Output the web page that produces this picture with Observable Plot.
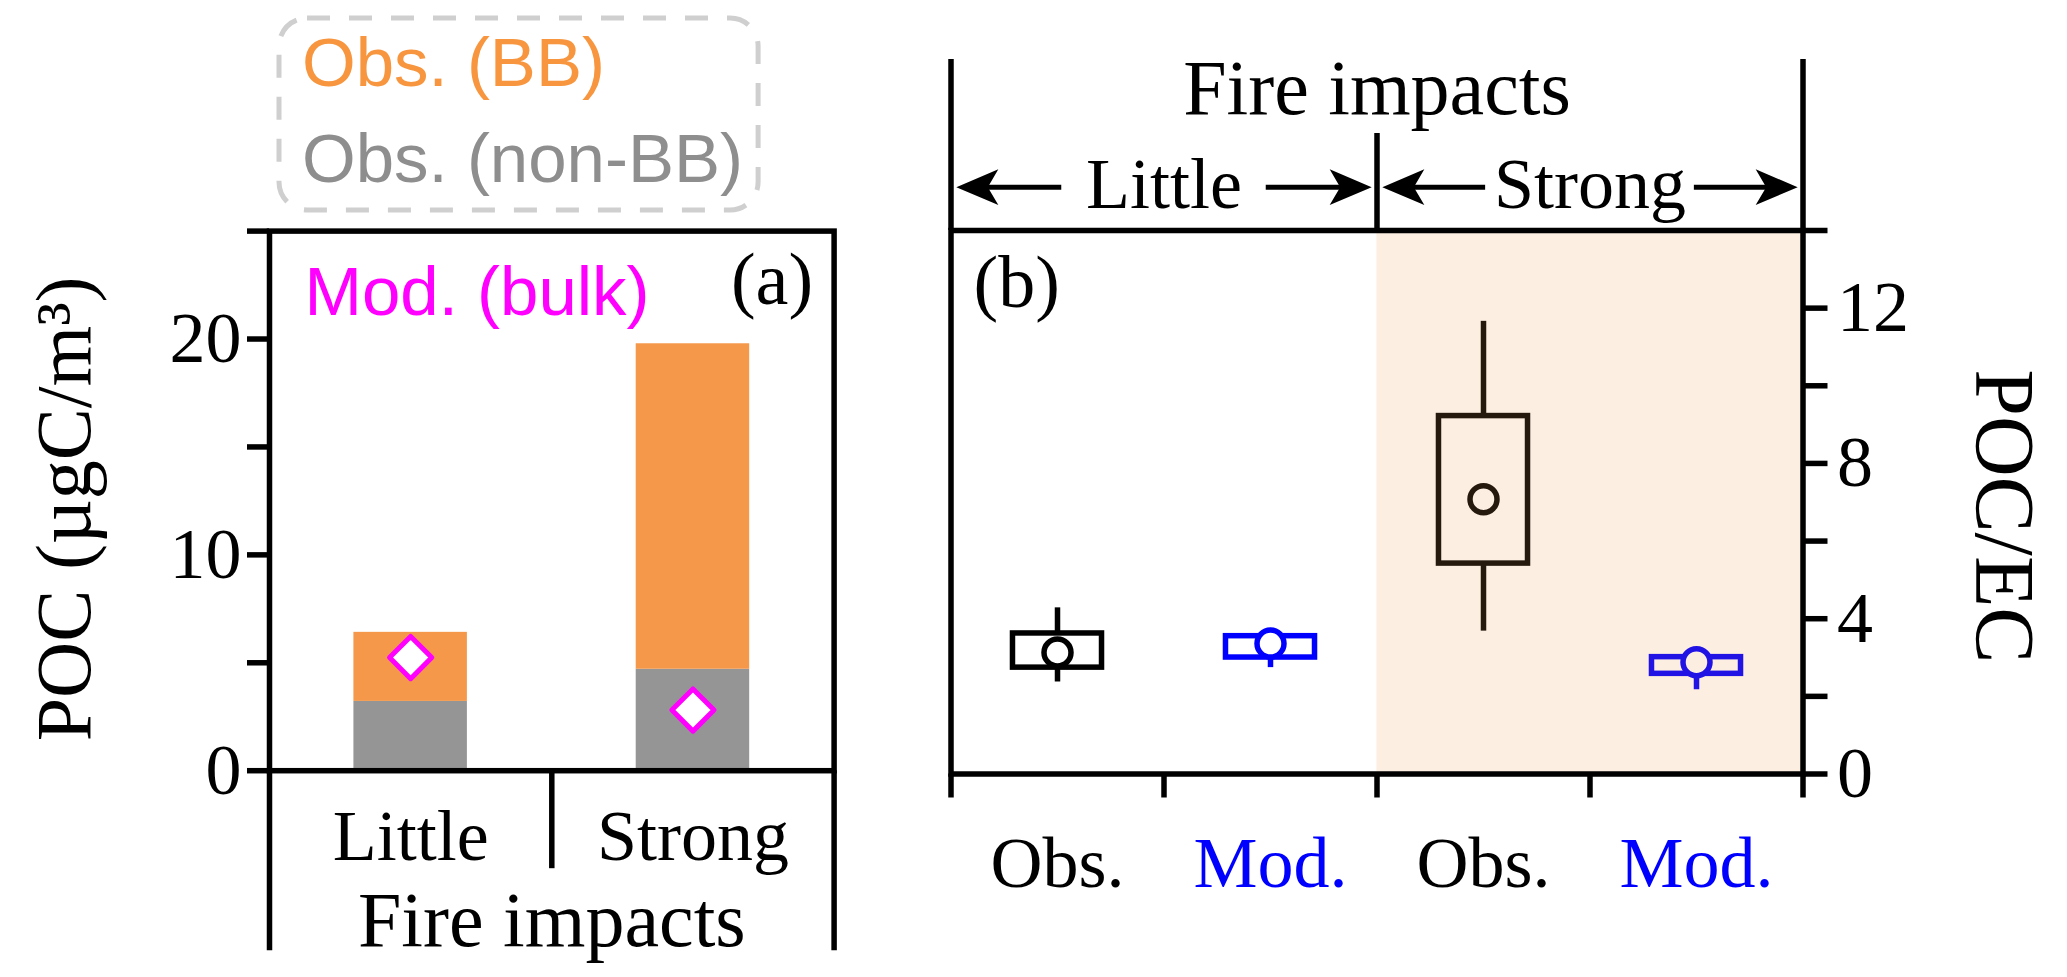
<!DOCTYPE html>
<html><head><meta charset="utf-8">
<script src="https://cdn.jsdelivr.net/npm/d3@7"></script>
<script src="https://cdn.jsdelivr.net/npm/@observablehq/plot@0.6"></script>
<style>
html,body{margin:0;padding:0;background:#fff;}
#root{position:relative;width:2067px;height:977px;overflow:hidden;background:#fff;}
#pa{position:absolute;left:0;top:0;}
#pb{position:absolute;left:900px;top:0;}
</style></head><body>
<div id="root"><div id="pa"></div><div id="pb"></div></div>
<script>
// ---------- data: panel (a) ----------
const fireCats = ["Little", "Strong"];
const pocNonBB = [3.21, 4.70];          // Obs. (non-BB)
const pocBB = [3.20, 15.08];            // Obs. (BB), stacked on non-BB
const pocMod = [5.24, 2.81];            // Mod. (bulk)
const pocTicks = [0, 5, 10, 15, 20, 25];
const pocTickLabels = [0, 10, 20];
const legendLabels = ["Obs. (BB)", "Obs. (non-BB)"];

// ---------- data: panel (b) ----------
const ratioCats = ["Obs.", "Mod.", "Obs.", "Mod."];
const ratioGroups = ["Little", "Little", "Strong", "Strong"];
const ratioLow = [2.37, 2.74, 3.68, 2.17];
const ratioQ1 = [2.74, 3.00, 5.42, 2.58];
const ratioMean = [3.13, 3.36, 7.08, 2.88];
const ratioQ3 = [3.62, 3.55, 9.22, 3.01];
const ratioHigh = [4.28, 3.55, 11.66, 3.01];
const ratioTicks = [0, 2, 4, 6, 8, 10, 12, 14];
const ratioTickLabels = [0, 4, 8, 12];

// ---------- styles ----------
const serif = '"Liberation Serif","Times New Roman",serif';
const sans = '"Liberation Sans",Arial,sans-serif';
const ORANGE = "#F5984A", GRAY = "#959595", MAGENTA = "#FF00FF", PEACH = "#FCEEE1";
const LEG_ORANGE = "#F7963F", LEG_GRAY = "#8E8E8E";
const boxColor = {"Little|Obs.": "#000000", "Little|Mod.": "#0000FF", "Strong|Obs.": "#25190E", "Strong|Mod.": "#2213E5"};
const labelColor = {"Obs.": "#000000", "Mod.": "#0000FF"};
const groupFill = {Little: "#ffffff", Strong: PEACH};
const LW = 5.5;
const H = 977;

// ---------- panel (a) ----------
const barRows = fireCats.flatMap((c, i) => [
  {cat: c, i, series: legendLabels[1], y1: 0, y2: pocNonBB[i]},
  {cat: c, i, series: legendLabels[0], y1: pocNonBB[i], y2: pocNonBB[i] + pocBB[i]}
]);
const modRows = fireCats.map((c, i) => ({cat: c, i, value: pocMod[i]}));
const catRows = fireCats.map((c, i) => ({cat: c, i}));
const nA = fireCats.length;
const yMaxA = pocTicks[pocTicks.length - 1];

const plotA = Plot.plot({
  width: 900, height: H,
  marginTop: 230.6, marginBottom: 206.8, marginLeft: 269, marginRight: 66.4,
  style: {fontFamily: serif, color: "#000", background: "transparent", overflow: "visible"},
  x: {domain: [0, nA], axis: null},
  y: {domain: [0, yMaxA], axis: null},
  color: {domain: [legendLabels[1], legendLabels[0]], range: [GRAY, ORANGE]},
  marks: [
    // legend box (above the frame) and its entries
    Plot.frame({insetTop: -213, insetBottom: 560.7, insetLeft: 9.5, insetRight: 76, rx: 28, ry: 28,
      stroke: "#cfcfcf", strokeWidth: 5, strokeDasharray: "23 19", fill: "none"}),
    Plot.text([legendLabels[0]], {frameAnchor: "top-left", dx: 32.5, dy: -145.6, textAnchor: "start", lineAnchor: "bottom", fontFamily: sans, fontSize: 69, fill: LEG_ORANGE}),
    Plot.text([legendLabels[1]], {frameAnchor: "top-left", dx: 32.5, dy: -48.9, textAnchor: "start", lineAnchor: "bottom", fontFamily: sans, fontSize: 69, fill: LEG_GRAY}),
    // bars and model points
    Plot.rect(barRows, {x1: d => d.i + 0.299, x2: d => d.i + 0.701, y1: "y1", y2: "y2", fill: "series"}),
    Plot.dot(modRows, {x: d => d.i + 0.5, y: "value", symbol: "diamond2", r: 19, stroke: MAGENTA, strokeWidth: 5, fill: "#fff", strokeLinejoin: "round"}),
    Plot.frame({stroke: "#000", strokeWidth: LW}),
    Plot.axisY({ticks: pocTicks, tickSize: 22, tickPadding: 6, tickFormat: d => pocTickLabels.includes(d) ? String(d) : "", fontSize: 72, strokeWidth: LW, label: null}),
    Plot.ruleX([0, nA], {y1: 0, y2: 0, insetBottom: -180, stroke: "#000", strokeWidth: LW}),
    Plot.ruleX(d3.range(1, nA), {y1: 0, y2: 0, insetBottom: -98, stroke: "#000", strokeWidth: LW}),
    Plot.text(catRows, {x: d => d.i + 0.5, y: 0, dy: 89, text: "cat", lineAnchor: "bottom", fontSize: 72}),
    Plot.text(["Fire impacts"], {x: nA / 2, y: 0, dy: 175, lineAnchor: "bottom", fontSize: 78}),
    Plot.text(["(a)"], {x: nA, y: yMaxA, dx: -21, dy: 73, textAnchor: "end", lineAnchor: "bottom", fontSize: 74}),
    Plot.text(["Mod. (bulk)"], {x: 0, y: yMaxA, dx: 35, dy: 83.4, textAnchor: "start", lineAnchor: "bottom", fontSize: 69, fontFamily: sans, fill: MAGENTA}),
    Plot.text(["POC (µgC/m³)"], {frameAnchor: "left", rotate: -90, dx: -204, dy: 8, textAnchor: "middle", lineAnchor: "middle", fontSize: 78})
  ]
});
document.getElementById("pa").appendChild(plotA);

// ---------- panel (b) ----------
const nB = ratioCats.length;
const yMaxB = ratioTicks[ratioTicks.length - 1];
const boxRows = ratioCats.map((c, i) => ({
  cat: c, group: ratioGroups[i], i,
  lo: ratioLow[i], q1: ratioQ1[i], mean: ratioMean[i], q3: ratioQ3[i], hi: ratioHigh[i]
}));
const colorOf = d => boxColor[d.group + "|" + d.cat];
const groupNames = [...new Set(ratioGroups)];
const groupSpans = groupNames.map(g => {
  const idx = ratioGroups.map((v, i) => v === g ? i : -1).filter(i => i >= 0);
  return {name: g, x1: d3.min(idx), x2: d3.max(idx) + 1, mid: (d3.min(idx) + d3.max(idx) + 1) / 2};
});
// arrows: from label edge toward group edge
const arrowInner = {Little: 0.48, Strong: 0.49};
const arrowRows = groupSpans.flatMap(g => [
  {from: g.mid - arrowInner[g.name], tip: g.x1 + 0.025, dir: -1},
  {from: g.mid + arrowInner[g.name], tip: g.x2 - 0.025, dir: 1}
]);
const arrowHead = {
  draw(ctx, size) {
    const s = Math.sqrt(size / Math.PI);
    ctx.moveTo(0, 0);
    ctx.lineTo(-2 * s, -0.85 * s);
    ctx.lineTo(-1.5 * s, 0);
    ctx.lineTo(-2 * s, 0.85 * s);
    ctx.closePath();
  }
};
const ARROW_DY = -43.3;

const plotB = Plot.plot({
  width: 1167, height: H,
  marginTop: 230, marginBottom: 203.5, marginLeft: 50.5, marginRight: 264.5,
  style: {fontFamily: serif, color: "#000", background: "transparent", overflow: "visible"},
  x: {domain: [0, nB], axis: null},
  y: {domain: [0, yMaxB], axis: null},
  marks: [
    Plot.rect(groupSpans.filter(g => groupFill[g.name] !== "#ffffff"), {x1: "x1", x2: "x2", y1: 0, y2: yMaxB, fill: d => groupFill[d.name]}),
    Plot.ruleX(boxRows, {x: d => d.i + 0.5, y1: "q3", y2: "hi", stroke: colorOf, strokeWidth: LW}),
    Plot.ruleX(boxRows, {x: d => d.i + 0.5, y1: "lo", y2: "q1", stroke: colorOf, strokeWidth: LW}),
    Plot.rect(boxRows, {x1: d => d.i + 0.291, x2: d => d.i + 0.709, y1: "q1", y2: "q3", fill: "none", stroke: colorOf, strokeWidth: LW}),
    Plot.dot(boxRows, {x: d => d.i + 0.5, y: "mean", r: 13.5, stroke: colorOf, strokeWidth: 5.5, fill: d => groupFill[d.group]}),
    Plot.frame({stroke: "#000", strokeWidth: LW}),
    Plot.axisY({anchor: "right", ticks: ratioTicks, tickSize: 24, tickPadding: 10, tickFormat: d => ratioTickLabels.includes(d) ? String(d) : "", fontSize: 72, strokeWidth: LW, label: null}),
    Plot.axisX({ticks: d3.range(0, nB + 1), tickSize: 24, tickFormat: () => "", strokeWidth: LW, label: null}),
    Plot.text(boxRows, {x: d => d.i + 0.5, y: 0, dy: 112.5, text: "cat", fill: d => labelColor[d.cat], lineAnchor: "bottom", fontSize: 72}),
    Plot.text(["(b)"], {x: 0, y: yMaxB, dx: 22.5, dy: 76, textAnchor: "start", lineAnchor: "bottom", fontSize: 74}),
    Plot.text(["POC/EC"], {frameAnchor: "right", rotate: 90, dx: 200, dy: 14, textAnchor: "middle", lineAnchor: "middle", fontSize: 84}),
    // top annotation
    Plot.ruleX([0, nB], {y1: yMaxB, y2: yMaxB, insetTop: -171, stroke: "#000", strokeWidth: LW}),
    Plot.ruleX(groupSpans.slice(1).map(g => g.x1), {y1: yMaxB, y2: yMaxB, insetTop: -97, stroke: "#000", strokeWidth: LW}),
    Plot.text(groupSpans, {x: "mid", y: yMaxB, dy: -23, text: "name", lineAnchor: "bottom", fontSize: 72}),
    Plot.text(["Fire impacts"], {x: nB / 2, y: yMaxB, dy: -117, lineAnchor: "bottom", fontSize: 78}),
    Plot.ruleY(arrowRows, {x1: "from", x2: d => d.tip - d.dir * 0.1, y: yMaxB, dy: ARROW_DY, stroke: "#000", strokeWidth: 5}),
    Plot.dot(arrowRows, {x: "tip", y: yMaxB, dy: ARROW_DY, symbol: arrowHead, r: 21, fill: "#000", stroke: "none", rotate: d => d.dir < 0 ? 180 : 0})
  ]
});
document.getElementById("pb").appendChild(plotB);
</script>
</body></html>
